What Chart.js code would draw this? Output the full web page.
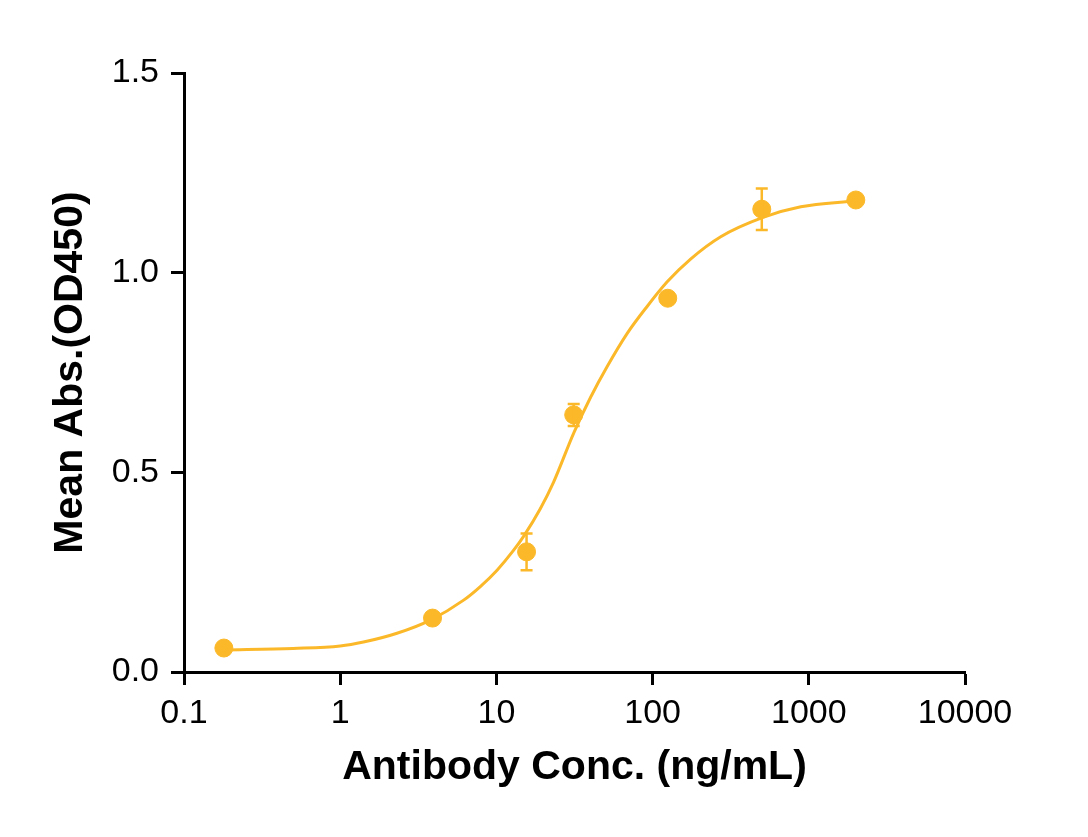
<!DOCTYPE html>
<html>
<head>
<meta charset="utf-8">
<script src="https://cdn.jsdelivr.net/npm/chart.js@4.4.1/dist/chart.umd.min.js"></script>
<style>
	html, body { margin: 0; padding: 0; background: #fff; }
	#wrap { width: 1088px; height: 837px; position: relative; }
</style>
</head>
<body>
<div id="wrap"><canvas id="elisaChart"></canvas></div>
<script>
// measured points (mean +/- error)
const concX = [0.18, 3.9, 15.6, 31.25, 125, 500, 2000];
const meanY = [0.060, 0.135, 0.301, 0.644, 0.936, 1.159, 1.182];
const errLow = [0.060, 0.135, 0.255, 0.616, 0.936, 1.107, 1.182];
const errHigh = [0.060, 0.135, 0.347, 0.671, 0.936, 1.211, 1.182];

// fitted curve
const curveX = [0.18, 0.5, 1.0, 1.41, 2.31, 3.78, 6.17, 7.89, 10.1, 12.9, 15.0, 19.1, 23.2, 31.3, 40.1, 51.2, 68.8, 92.5, 124, 175, 273, 515, 889, 2000];
const curveY = [0.055, 0.059, 0.065, 0.075, 0.097, 0.130, 0.180, 0.214, 0.255, 0.305, 0.341, 0.409, 0.475, 0.599, 0.688, 0.765, 0.848, 0.916, 0.977, 1.034, 1.090, 1.139, 1.165, 1.180];

const xTicks = [0.1, 1, 10, 100, 1000, 10000];
const yTicks = [0, 0.5, 1.0, 1.5];

const mainColor = "#FBB829";
const fontFamily = "'Liberation Sans', Arial, sans-serif";

// error bars drawn with the chart's own scales
const errorBarPlugin = {
	id: "errorBars",
	afterDatasetsDraw(chart) {
		const ctx = chart.ctx;
		const xs = chart.scales.x;
		const ys = chart.scales.y;
		ctx.save();
		ctx.strokeStyle = mainColor;
		ctx.lineWidth = 2.5;
		concX.forEach((c, i) => {
			if (errHigh[i] - errLow[i] < 0.001) return;
			const px = xs.getPixelForValue(c);
			const top = ys.getPixelForValue(errHigh[i]);
			const bot = ys.getPixelForValue(errLow[i]);
			ctx.beginPath();
			ctx.moveTo(px, top);
			ctx.lineTo(px, bot);
			ctx.moveTo(px - 6, top);
			ctx.lineTo(px + 6, top);
			ctx.moveTo(px - 6, bot);
			ctx.lineTo(px + 6, bot);
			ctx.stroke();
		});
		ctx.restore();
	},
};

const chart = new Chart(document.getElementById("elisaChart"), {
	type: "scatter",
	data: {
		datasets: [
			{
				label: "points",
				data: concX.map((c, i) => ({ x: c, y: meanY[i] })),
				backgroundColor: mainColor,
				borderColor: mainColor,
				pointRadius: 9,
				pointHoverRadius: 9,
				order: 1,
			},
			{
				label: "fit",
				data: curveX.map((c, i) => ({ x: c, y: curveY[i] })),
				showLine: true,
				borderColor: mainColor,
				borderWidth: 3,
				pointRadius: 0,
				cubicInterpolationMode: "monotone",
				order: 2,
			},
		],
	},
	options: {
		responsive: true,
		maintainAspectRatio: false,
		devicePixelRatio: 1,
		animation: false,
		layout: { padding: { left: 0, top: 73, right: 123, bottom: 0 } },
		plugins: {
			legend: { display: false },
			tooltip: { enabled: false },
		},
		scales: {
			x: {
				type: "logarithmic",
				min: 0.1,
				max: 10000,
				afterBuildTicks: (scale) => {
					scale.ticks = xTicks.map((v) => ({ value: v }));
				},
				afterFit: (scale) => {
					scale.height = 165;
				},
				border: { display: true, color: "#000", width: 3 },
				grid: {
					drawOnChartArea: false,
					drawTicks: true,
					tickLength: 13,
					tickWidth: 3,
					tickColor: "#000",
				},
				ticks: {
					color: "#000",
					padding: 8,
					maxRotation: 0,
					autoSkip: false,
					font: { family: fontFamily, size: 34 },
					callback: (v) => String(v),
				},
				title: {
					display: true,
					text: "Antibody Conc. (ng/mL)",
					color: "#000",
					padding: { top: 0, bottom: 45 },
					font: { family: fontFamily, size: 41, weight: "bold" },
				},
			},
			y: {
				min: 0,
				max: 1.5,
				afterBuildTicks: (scale) => {
					scale.ticks = yTicks.map((v) => ({ value: v }));
				},
				afterFit: (scale) => {
					scale.width = 184;
				},
				border: { display: true, color: "#000", width: 3 },
				grid: {
					drawOnChartArea: false,
					drawTicks: true,
					tickLength: 13,
					tickWidth: 3,
					tickColor: "#000",
				},
				ticks: {
					color: "#000",
					padding: 12,
					font: { family: fontFamily, size: 34 },
					callback: (v) => v.toFixed(1),
				},
				title: {
					display: true,
					text: "Mean Abs.(OD450)",
					color: "#000",
					padding: { top: 46, bottom: 0 },
					font: { family: fontFamily, size: 41, weight: "bold" },
				},
			},
		},
	},
	plugins: [errorBarPlugin],
});
</script>
</body>
</html>
